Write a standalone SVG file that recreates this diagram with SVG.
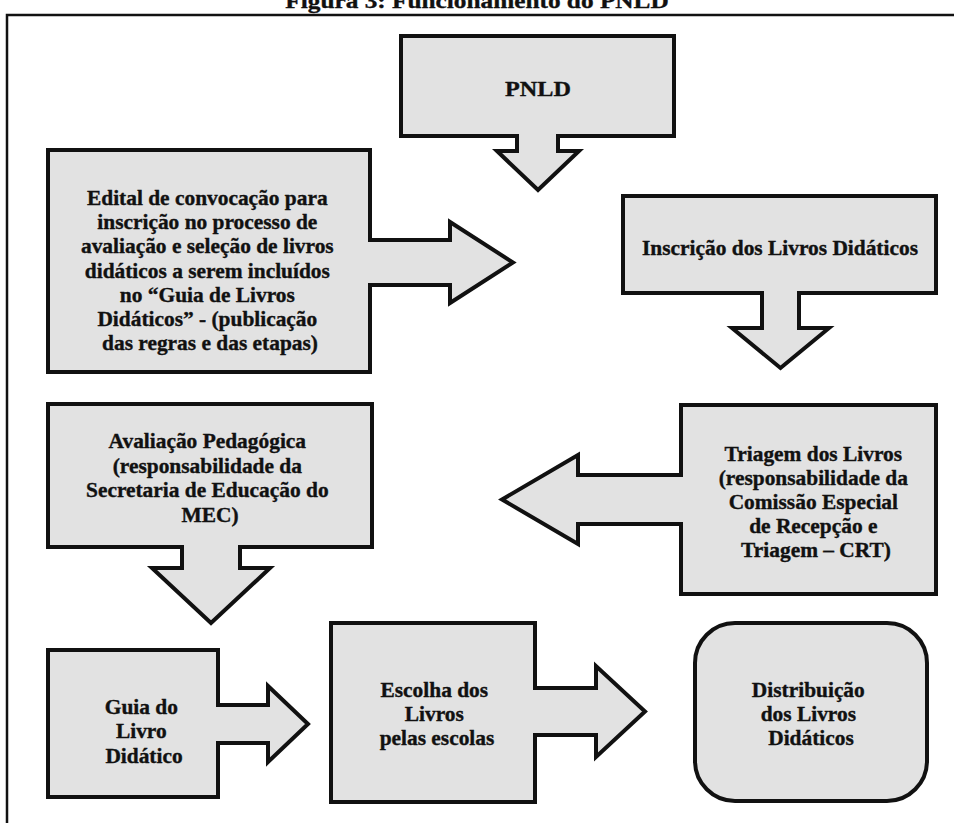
<svg xmlns="http://www.w3.org/2000/svg" width="954" height="823" viewBox="0 0 954 823">
<style>
.bg{fill:#ffffff}
.box{fill:#e2e2e2;stroke:#111;stroke-width:4;stroke-linejoin:miter}
.af{fill:#e2e2e2;stroke:none}
.ao{fill:none;stroke:#111;stroke-width:4;stroke-linejoin:miter}
.t{font-family:"Liberation Serif","Times New Roman",serif;font-weight:bold;font-size:20px;fill:#111;stroke:#111;stroke-width:0.35;text-anchor:middle}
.big{font-size:22px}
.frame{stroke:#111;stroke-width:2.5;fill:none}
</style>
<rect class="bg" x="0" y="0" width="954" height="823"/>
<g id="title" transform="translate(477 0) scale(1.15 1)">
<text class="t big" x="0" y="8">Figura 3: Funcionamento do PNLD</text>
</g>
<path id="frame" class="frame" d="M7,823 V15 H954"/>

<g id="n-pnld">
<rect class="box" x="401" y="36" width="273" height="100"/>
<g transform="translate(538 0) scale(1.1 1)"><text class="t big" x="0" y="96">PNLD</text></g>
</g>

<g id="n-edital">
<rect class="box" x="48" y="150" width="322" height="222"/>
<g transform="translate(210 0) scale(1.07 1)"><text class="t">
<tspan x="0" y="205">Edital de convocação para</tspan>
<tspan x="0" y="229">inscrição no processo de</tspan>
<tspan x="0" y="253">avaliação e seleção de livros</tspan>
<tspan x="0" y="278">didáticos a serem incluídos</tspan>
<tspan x="0" y="302">no “Guia de Livros</tspan>
<tspan x="0" y="326">Didáticos” - (publicação</tspan>
<tspan x="0" y="350">das regras e das etapas)</tspan>
</text></g>
</g>

<g id="n-inscricao">
<rect class="box" x="623" y="196" width="313" height="97"/>
<g transform="translate(780 0) scale(1.07 1)"><text class="t" x="0" y="255">Inscrição dos Livros Didáticos</text></g>
</g>

<g id="n-avaliacao">
<rect class="box" x="48" y="404" width="324" height="143"/>
<g transform="translate(210 0) scale(1.07 1)"><text class="t">
<tspan x="0" y="448">Avaliação Pedagógica</tspan>
<tspan x="0" y="473">(responsabilidade da</tspan>
<tspan x="0" y="497">Secretaria de Educação do</tspan>
<tspan x="0" y="522">MEC)</tspan>
</text></g>
</g>

<g id="n-triagem">
<rect class="box" x="681" y="405" width="255" height="189"/>
<g transform="translate(816 0) scale(1.07 1)"><text class="t">
<tspan x="0" y="461">Triagem dos Livros</tspan>
<tspan x="0" y="485">(responsabilidade da</tspan>
<tspan x="0" y="509">Comissão Especial</tspan>
<tspan x="0" y="533">de Recepção e</tspan>
<tspan x="0" y="557">Triagem – CRT)</tspan>
</text></g>
</g>

<g id="n-guia">
<rect class="box" x="48" y="650" width="170" height="147"/>
<g transform="translate(144 0) scale(1.07 1)"><text class="t">
<tspan x="0" y="714">Guia do</tspan>
<tspan x="0" y="738">Livro</tspan>
<tspan x="0" y="763">Didático</tspan>
</text></g>
</g>

<g id="n-escolha">
<rect class="box" x="331" y="623" width="204" height="179"/>
<g transform="translate(437 0) scale(1.07 1)"><text class="t">
<tspan x="0" y="697">Escolha dos</tspan>
<tspan x="0" y="721">Livros</tspan>
<tspan x="0" y="745">pelas escolas</tspan>
</text></g>
</g>

<g id="n-distribuicao">
<rect class="box" x="695" y="623" width="232" height="178" rx="40" ry="40"/>
<g transform="translate(811 0) scale(1.07 1)"><text class="t">
<tspan x="0" y="697">Distribuição</tspan>
<tspan x="0" y="721">dos Livros</tspan>
<tspan x="0" y="745">Didáticos</tspan>
</text></g>
</g>

<g id="connectors">
<g id="c-pnld-down">
<path class="af" d="M517,132 V151 H497 L538,190 L579,151 H558 V132 Z"/>
<path class="ao" d="M517,134 V151 H497 L538,190 L579,151 H558 V134"/>
</g>
<g id="c-edital-right">
<path class="af" d="M366,240 H450 V222 L513,262.5 L450,303 V285 H366 Z"/>
<path class="ao" d="M368,240 H450 V222 L513,262.5 L450,303 V285 H368"/>
</g>
<g id="c-inscricao-down">
<path class="af" d="M762,289 V328 H732 L780.5,368 L829,328 H799 V289 Z"/>
<path class="ao" d="M762,291 V328 H732 L780.5,368 L829,328 H799 V291"/>
</g>
<g id="c-triagem-left">
<path class="af" d="M685,475 H578 V455 L502,499.5 L578,544 V524 H685 Z"/>
<path class="ao" d="M683,475 H578 V455 L502,499.5 L578,544 V524 H683"/>
</g>
<g id="c-avaliacao-down">
<path class="af" d="M182,543 V568 H152 L211,623 L270,568 H240 V543 Z"/>
<path class="ao" d="M182,545 V568 H152 L211,623 L270,568 H240 V545"/>
</g>
<g id="c-guia-right">
<path class="af" d="M214,705 H268 V686 L308,724 L268,762 V743 H214 Z"/>
<path class="ao" d="M216,705 H268 V686 L308,724 L268,762 V743 H216"/>
</g>
<g id="c-escolha-right">
<path class="af" d="M531,688 H596 V666 L645,711.5 L596,757 V735 H531 Z"/>
<path class="ao" d="M533,688 H596 V666 L645,711.5 L596,757 V735 H533"/>
</g>
</g>
</svg>
